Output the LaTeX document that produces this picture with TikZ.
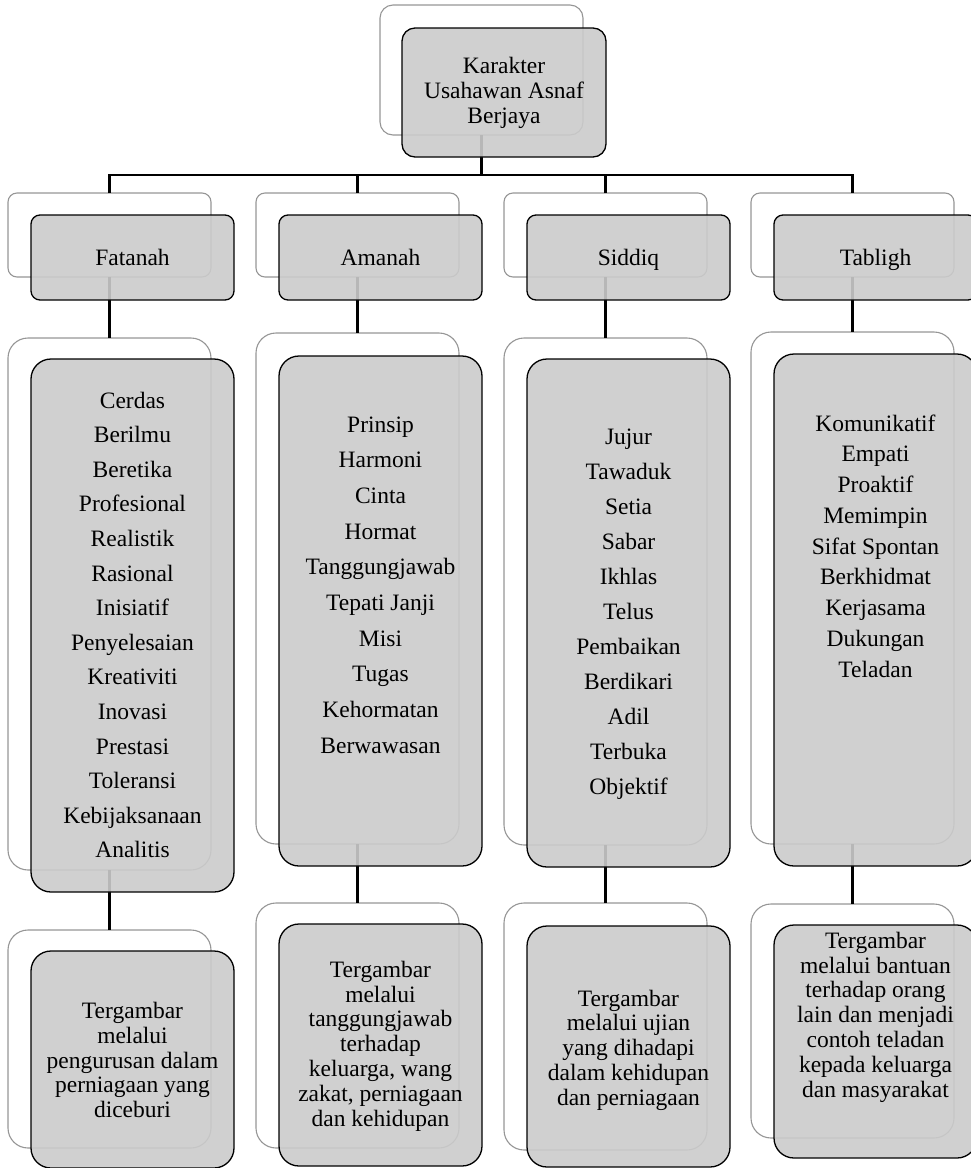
\documentclass[tikz,border=0pt]{standalone}
\usepackage{fontspec}
\setmainfont{Liberation Serif}
\newcommand\boxat[6]{\node[#6, minimum width={#4-#2}, minimum height={#5-#3}] (#1) at ({(#2+#4)/2},{(#3+#5)/2}) {};}
\definecolor{boxgray}{RGB}{203,203,203}
\definecolor{backline}{RGB}{150,150,150}
\begin{document}
\begin{tikzpicture}[x=1pt,y=-1pt,
  backbox/.style={draw=backline, line width=1.1pt, fill=white, rounded corners=#1, inner sep=0pt, outer sep=0pt},
  frontbox/.style={draw=black, line width=1.3pt, fill=boxgray, fill opacity=0.9, rounded corners=#1, inner sep=0pt, outer sep=0pt},
  conn/.style={draw=black, line width=2.6pt},
  txt/.style={align=center, inner sep=0pt, font=\fontsize{23.5}{24.8}\selectfont},
  lst/.style={align=center, inner sep=0pt, font=\fontsize{23.5}{#1}\selectfont}]
\useasboundingbox (0,0) rectangle (970,1168);
% back boxes
\boxat{b0}{380}{5}{583}{135}{backbox=13pt}
\boxat{b1}{8}{193}{211}{277}{backbox=9pt}
\boxat{b2}{256}{193}{459}{277}{backbox=9pt}
\boxat{b3}{504}{193}{707}{277}{backbox=9pt}
\boxat{b4}{751}{193}{954}{277}{backbox=9pt}
\boxat{c1}{8}{338}{211}{870}{backbox=20pt}
\boxat{c2}{256}{333}{459}{844}{backbox=20pt}
\boxat{c3}{504}{338}{707}{845}{backbox=20pt}
\boxat{c4}{751}{332}{954}{844}{backbox=20pt}
\boxat{d1}{8}{930}{211}{1148}{backbox=20pt}
\boxat{d2}{256}{903}{459}{1148}{backbox=20pt}
\boxat{d3}{504}{903}{707}{1150}{backbox=20pt}
\boxat{d4}{751}{904}{954}{1138}{backbox=20pt}
% connectors
\coordinate (hub) at (481.5,175);
\draw[conn] (b0.south) -- (b0.south |- hub);
\draw[conn] (b1.north) |- (b4.north |- hub) -- (b4.north);
\draw[conn] (b2.north) -- (b2.north |- hub);
\draw[conn] (b3.north) -- (b3.north |- hub);
\foreach \i in {1,2,3,4}{
  \draw[conn] (b\i.south) -- (c\i.north);
  \draw[conn] (c\i.south) -- (d\i.north);
}
% front boxes
\boxat{F0}{402}{28}{606}{157}{frontbox=13pt}
\boxat{F1}{31}{215}{234}{300}{frontbox=9pt}
\boxat{F2}{279}{215}{482}{300}{frontbox=9pt}
\boxat{F3}{527}{215}{730}{300}{frontbox=9pt}
\boxat{F4}{774}{215}{977}{300}{frontbox=9pt}
\boxat{G1}{31}{359}{234}{892}{frontbox=20pt}
\boxat{G2}{279}{356}{482}{866}{frontbox=20pt}
\boxat{G3}{527}{359}{730}{867}{frontbox=20pt}
\boxat{G4}{774}{354}{977}{866}{frontbox=20pt}
\boxat{H1}{31}{951}{234}{1168}{frontbox=20pt}
\boxat{H2}{279}{924}{482}{1166}{frontbox=20pt}
\boxat{H3}{527}{926}{730}{1167}{frontbox=20pt}
\boxat{H4}{774}{925}{977}{1158}{frontbox=20pt}
% texts
\node[txt] (t0) at (504,93) {Karakter\\Usahawan Asnaf\\Berjaya};
\node[txt, anchor=base] (t1) at (132.5,265) {Fatanah};
\node[txt, anchor=base] (t2) at (380.5,265) {Amanah};
\node[txt, anchor=base] (t3) at (628.5,265) {Siddiq};
\node[txt, anchor=base] (t4) at (875.5,265) {Tabligh};
\node[lst=34.6] (l1) at (132.5,625) {Cerdas\\Berilmu\\Beretika\\Profesional\\Realistik\\Rasional\\Inisiatif\\Penyelesaian\\Kreativiti\\Inovasi\\Prestasi\\Toleransi\\Kebijaksanaan\\Analitis};
\node[lst=35.7] (l2) at (380.5,585) {Prinsip\\Harmoni\\Cinta\\Hormat\\Tanggungjawab\\Tepati Janji\\Misi\\Tugas\\Kehormatan\\Berwawasan};
\node[lst=35] (l3) at (628.5,614) {Jujur\\Tawaduk\\Setia\\Sabar\\Ikhlas\\Telus\\Pembaikan\\Berdikari\\Adil\\Terbuka\\Objektif};
\node[lst=30.75] (l4) at (875.5,546) {Komunikatif\\Empati\\Proaktif\\Memimpin\\Sifat Spontan\\Berkhidmat\\Kerjasama\\Dukungan\\Teladan};
\node[txt] (m1) at (132.5,1060) {Tergambar\\melalui\\pengurusan dalam\\perniagaan yang\\diceburi};
\node[txt] (m2) at (380.5,1046) {Tergambar\\melalui\\tanggungjawab\\terhadap\\keluarga, wang\\zakat, perniagaan\\dan kehidupan};
\node[txt] (m3) at (628.5,1050) {Tergambar\\melalui ujian\\yang dihadapi\\dalam kehidupan\\dan perniagaan};
\node[txt] (m4) at (875.5,1017) {Tergambar\\melalui bantuan\\terhadap orang\\lain dan menjadi\\contoh teladan\\kepada keluarga\\dan masyarakat};
\end{tikzpicture}
\end{document}
